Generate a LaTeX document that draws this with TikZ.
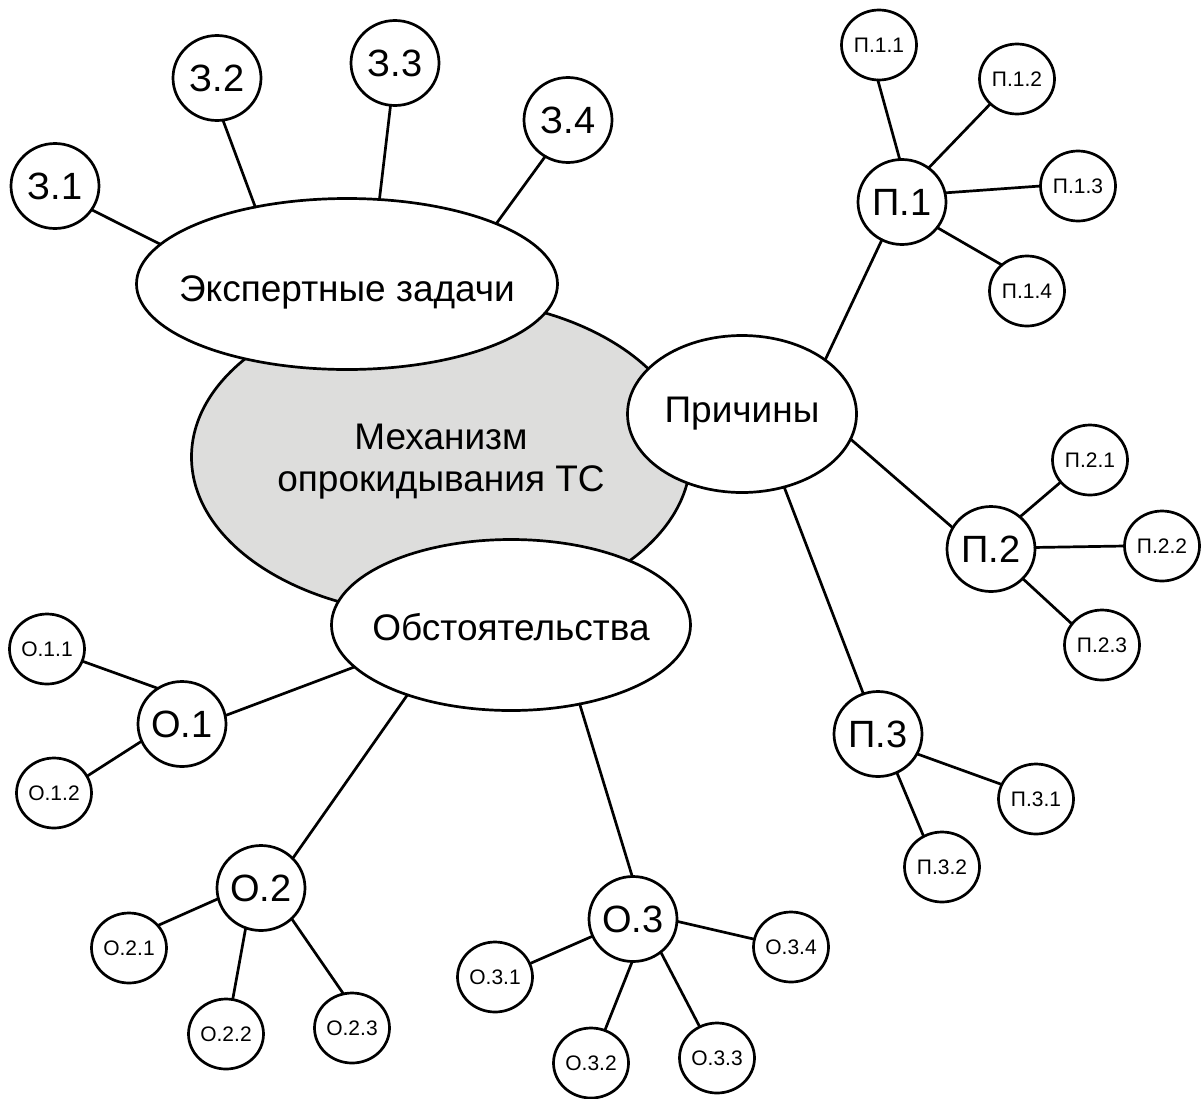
\documentclass[tikz,border=0pt]{standalone}
\usepackage{fontspec}
\setmainfont{Liberation Sans}
\usetikzlibrary{shapes.geometric}
\definecolor{core}{RGB}{221,221,220}
\newcommand{\topicfont}{\fontsize{37}{42}\selectfont}
\begin{document}
\begin{tikzpicture}[x=1pt,y=-1pt,
  every node/.style={inner sep=0pt, outer sep=0pt},
  bubble/.style={ellipse, draw=black, line width=2.7pt, fill=white},
  mid/.style={bubble, minimum width=88pt, minimum height=85pt, font=\fontsize{38}{38}\selectfont},
  leaf/.style={bubble, minimum width=75pt, minimum height=70pt, font=\fontsize{21}{21}\selectfont},
  caption/.style={font=\topicfont, align=center},
  link/.style={line width=2.7pt, line cap=round},
]
\useasboundingbox (0,0) rectangle (1204,1098);

% central topic
\node[bubble, fill=core, minimum width=499pt, minimum height=317pt,
  label={[caption, yshift=-5pt]center:{Механизм\\опрокидывания ТС}}] (core) at (441,457) {};

% three branches around it
\node[bubble, minimum width=421pt, minimum height=171pt,
  label={[caption, yshift=-8pt]center:Экспертные задачи}] (tasks) at (347,284) {};
\node[bubble, minimum width=229pt, minimum height=157pt,
  label={[caption]center:Причины}] (causes) at (742,414) {};
\node[bubble, minimum width=359pt, minimum height=171pt,
  label={[caption, yshift=-2pt]center:Обстоятельства}] (circ) at (511,625) {};

% expert tasks
\node[mid] (z1) at (55,186) {З.1};
\node[mid] (z2) at (217,78) {З.2};
\node[mid] (z3) at (395,63) {З.3};
\node[mid] (z4) at (568,120) {З.4};

% causes
\node[mid] (p1) at (902,202) {П.1};
\node[mid] (p2) at (991,549) {П.2};
\node[mid] (p3) at (878,734) {П.3};
\node[leaf] (p11) at (879,45) {П.1.1};
\node[leaf] (p12) at (1017,79) {П.1.2};
\node[leaf] (p13) at (1078,186) {П.1.3};
\node[leaf] (p14) at (1027,291) {П.1.4};
\node[leaf] (p21) at (1090,460) {П.2.1};
\node[leaf] (p22) at (1162,546) {П.2.2};
\node[leaf] (p23) at (1102,645) {П.2.3};
\node[leaf] (p31) at (1036,799) {П.3.1};
\node[leaf] (p32) at (942,867) {П.3.2};

% circumstances
\node[mid] (o1) at (182,724) {О.1};
\node[mid] (o2) at (261,888) {О.2};
\node[mid] (o3) at (633,919) {О.3};
\node[leaf] (o11) at (47,649) {О.1.1};
\node[leaf] (o12) at (54,793) {О.1.2};
\node[leaf] (o21) at (129,948) {О.2.1};
\node[leaf] (o22) at (226,1034) {О.2.2};
\node[leaf] (o23) at (352,1028) {О.2.3};
\node[leaf] (o31) at (495,977) {О.3.1};
\node[leaf] (o32) at (591,1063) {О.3.2};
\node[leaf] (o33) at (717,1058) {О.3.3};
\node[leaf] (o34) at (791,947) {О.3.4};

% connectors
\draw[link] (z1.-33) -- (tasks.168);
\draw[link] (z2.-82) -- (tasks.140);
\draw[link] (z3.-96) -- (tasks.69);
\draw[link] (z4.-122) -- (tasks.22);

\draw[link] (p1.-118) -- (causes.33);
\draw[link] (p11.-92) -- (p1.93);
\draw[link] (p12.-137) -- (p1.52);
\draw[link] (p1.12) -- (p13.180);
\draw[link] (p1.-36) -- (p14.134);

\draw[link] (causes.-13) -- (p2.151);
\draw[link] (p2.48) -- (p21.-143);
\draw[link] (p2.2) -- (p22.180);
\draw[link] (p2.-43) -- (p23.145);

\draw[link] (causes.-60) -- (p3.110);
\draw[link] (p3.-27) -- (p31.157);
\draw[link] (p3.-64) -- (p32.121);

\draw[link] (circ.-165) -- (o1.11);
\draw[link] (o11.-19) -- (o1.124);
\draw[link] (o1.-157) -- (o12.27);

\draw[link] (circ.-146) -- (o2.43);
\draw[link] (o2.-166) -- (o21.38);
\draw[link] (o2.-111) -- (o22.79);
\draw[link] (o2.-45) -- (o23.104);

\draw[link] (circ.-49) -- (o3.91);
\draw[link] (o3.-157) -- (o31.21);
\draw[link] (o3.-91) -- (o32.67);
\draw[link] (o3.-50) -- (o33.119);
\draw[link] (o3.-3) -- (o34.168);
\end{tikzpicture}
\end{document}
